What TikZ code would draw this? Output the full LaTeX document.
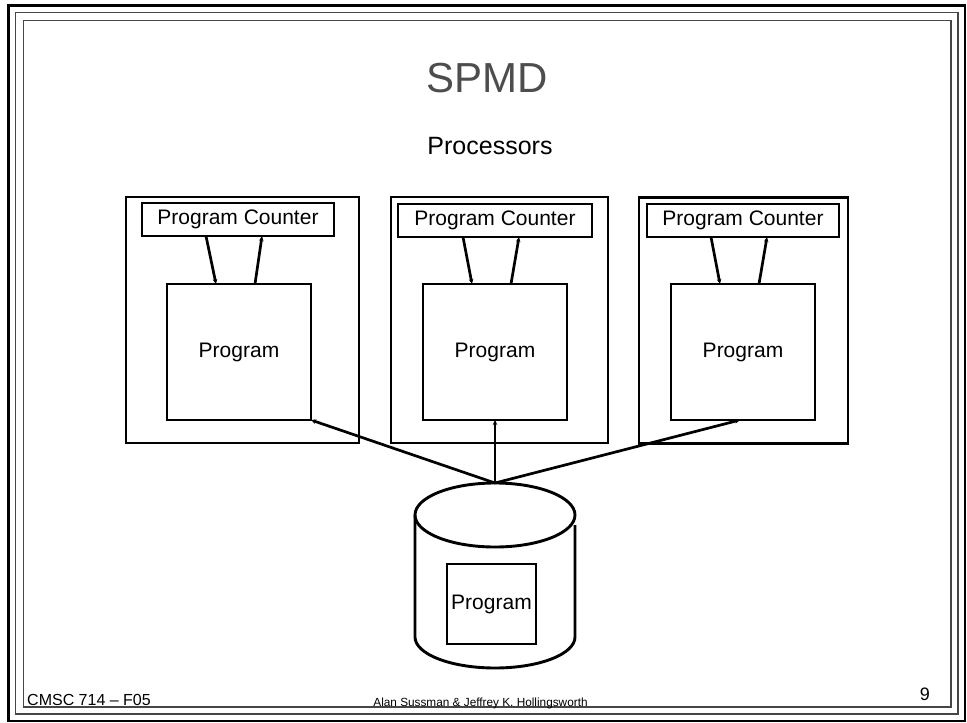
\documentclass[tikz,border=0pt]{standalone}
\usepackage{fontspec}
\setmainfont{Liberation Sans}
\usetikzlibrary{arrows.meta}
\definecolor{titlegray}{RGB}{77,77,77}
\definecolor{framegray}{RGB}{70,70,70}
\begin{document}
\begin{tikzpicture}[x=1pt,y=-1pt,
  line join=miter,
  box/.style={draw, line width=2.9pt, inner sep=0pt, outer sep=0pt},
  cpu/.style={box, minimum height=246pt},
  pcbox/.style={box, minimum width=192pt, minimum height=33pt,
    font=\fontsize{21pt}{25pt}\selectfont},
  progbox/.style={box, minimum width=144pt, minimum height=136pt,
    font=\fontsize{21pt}{25pt}\selectfont},
  link/.style={line width=2.7pt, -{Stealth[length=5pt,width=4.5pt]}},
  frameline/.style={draw=framegray, line width=1.4pt}
]
\useasboundingbox (0,0) rectangle (967,723);

% slide frame
\draw[line width=2.8pt] (8.5,5.5) rectangle (965,721);
\draw[frameline] (15.5,12.5) rectangle (958,714);
\draw[frameline] (23.5,20.5) rectangle (951,707);

% headings
\node[anchor=base, text=titlegray, font=\fontsize{42pt}{48pt}\selectfont] (title) at (487,92) {SPMD};
\node[anchor=base, font=\fontsize{25pt}{30pt}\selectfont] (procs) at (490,154) {Processors};

% processors
\node[cpu, minimum width=233pt] (cpuA) at (242.5,320) {};
\node[cpu, minimum width=217pt] (cpuB) at (499.5,320) {};
\node[cpu, minimum width=209pt] (cpuC) at (743.5,320.5) {};

\node[pcbox] (pcA) at (238,219.5) {Program Counter};
\node[pcbox, minimum width=194pt] (pcB) at (495,220.5) {Program Counter};
\node[pcbox] (pcC) at (743,220.5) {Program Counter};

\node[progbox] (progA) at (239,352) {Program};
\node[progbox] (progB) at (495,352) {Program};
\node[progbox] (progC) at (743,352) {Program};

% counter <-> program
\foreach \p in {A,B,C}{
  \draw[link] ([xshift=-32pt]pc\p.south) -- ([xshift=-23pt]prog\p.north);
  \draw[link] ([xshift=16pt]prog\p.north) -- ([xshift=24pt]pc\p.south);
}

% program store (cylinder)
\coordinate (dbtop) at (495,483);
\draw[line width=2.9pt] (495,515) ellipse [x radius=80, y radius=32];
\draw[line width=2.9pt] (415,515) -- (415,637)
  arc[start angle=180, end angle=0, x radius=80, y radius=31] -- (575,525);
\node[box, minimum width=89pt, minimum height=80pt,
  font=\fontsize{21pt}{25pt}\selectfont] (store) at (491.5,604) {Program};

% distribution to the processors
\draw[link] (dbtop) -- (progA.south east);
\draw[link] (dbtop) -- (progB.south);
\draw[link] (dbtop) -- ([xshift=-3pt]progC.south);

% footer
\node[anchor=base west, inner sep=0pt, font=\fontsize{16pt}{19pt}\selectfont] (course) at (27,705) {CMSC 714 -- F05};
\node[anchor=base, inner sep=0pt, font=\fontsize{11.8pt}{14pt}\selectfont] (authors) at (480.5,706) {Alan Sussman \& Jeffrey K. Hollingsworth};
\node[anchor=base east, inner sep=0pt, font=\fontsize{18pt}{21pt}\selectfont] (pageno) at (930,700) {9};
\end{tikzpicture}
\end{document}
